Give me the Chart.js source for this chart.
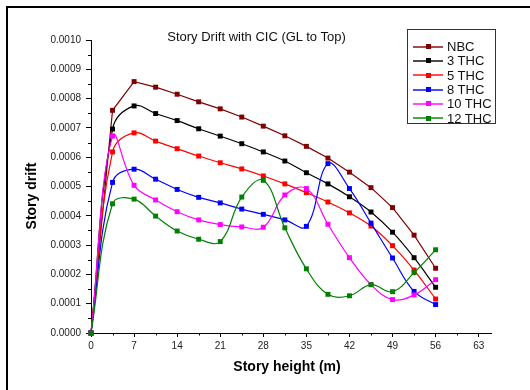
<!DOCTYPE html>
<html>
<head>
<meta charset="utf-8">
<title>Story Drift with CIC</title>
<script src="https://cdn.jsdelivr.net/npm/chart.js@4.4.0/dist/chart.umd.min.js"></script>
<style>
  html, body { margin: 0; padding: 0; background: #fff; overflow: hidden; }
  #wrap { position: relative; width: 530px; height: 390px; }
  #frame { position: absolute; left: 6px; top: 6px; width: 600px; height: 500px; border: 2px solid #000; box-sizing: border-box; }
  #chart { position: absolute; left: 0; top: 0; }
  #title { position: absolute; left: 0; top: 29px; width: 513px; text-align: center;
           font: 13px "Liberation Sans", Arial, sans-serif; color: #111; line-height: 16px; }
  #legend { position: absolute; left: 407px; top: 29px; width: 89px; height: 95px; box-sizing: border-box;
            border: 1px solid #333; background: #fff; padding-top: 9.5px; }
  .row { height: 14.3px; display: flex; align-items: center; font: 13px "Liberation Sans", Arial, sans-serif; color: #111; }
  .sw { position: relative; width: 30px; height: 2px; margin-left: 5px; margin-right: 4px; }
  .sw b { position: absolute; left: 0; top: 0; width: 30px; height: 2px; opacity: 0.7; }
  .sw i { position: absolute; left: 12.5px; top: -1.5px; width: 5px; height: 5px; }
</style>
</head>
<body>
<div id="wrap">
  <div id="frame"></div>
  <canvas id="chart" width="530" height="390"></canvas>
  <div id="title">Story Drift with CIC (GL to Top)</div>
  <div id="legend"></div>
</div>
<script>
// story heights (m), one point per floor level
const heights = [0, 3.5, 7, 10.5, 14, 17.5, 21, 24.5, 28, 31.5, 35, 38.5, 42, 45.5, 49, 52.5, 56];

const nbc   = [0, 0.000760, 0.000858, 0.000839, 0.000815, 0.000789, 0.000765, 0.000737, 0.000706, 0.000673, 0.000637, 0.000597, 0.000549, 0.000496, 0.000428, 0.000334, 0.000221];
const thc3  = [0, 0.000696, 0.000775, 0.000749, 0.000725, 0.000697, 0.000672, 0.000646, 0.000618, 0.000587, 0.000547, 0.000509, 0.000465, 0.000413, 0.000344, 0.000257, 0.000156];
const thc5  = [0, 0.000618, 0.000683, 0.000655, 0.000629, 0.000604, 0.000581, 0.000560, 0.000536, 0.000509, 0.000479, 0.000447, 0.000410, 0.000365, 0.000298, 0.000215, 0.000116];
const thc8  = [0, 0.000514, 0.000559, 0.000525, 0.000490, 0.000463, 0.000444, 0.000423, 0.000405, 0.000386, 0.000364, 0.000578, 0.000493, 0.000375, 0.000256, 0.000142, 0.000097];
const thc10 = [0, 0.000672, 0.000504, 0.000454, 0.000414, 0.000386, 0.000370, 0.000362, 0.000361, 0.000471, 0.000493, 0.000371, 0.000257, 0.000165, 0.000114, 0.000130, 0.000182];
const thc12 = [0, 0.000441, 0.000457, 0.000399, 0.000348, 0.000320, 0.000312, 0.000464, 0.000521, 0.000359, 0.000219, 0.000132, 0.000127, 0.000165, 0.000141, 0.000206, 0.000284];

const seriesNames  = ['NBC', '3 THC', '5 THC', '8 THC', '10 THC', '12 THC'];
const seriesValues = [nbc, thc3, thc5, thc8, thc10, thc12];
const seriesColors = ['#800000', '#000000', '#ff0000', '#0000ff', '#ff00ff', '#008000'];
const seriesSmooth = [false, true, true, true, true, true];

const xTicks = [0, 7, 14, 21, 28, 35, 42, 49, 56, 63];
const yTicks = [0, 0.0001, 0.0002, 0.0003, 0.0004, 0.0005, 0.0006, 0.0007, 0.0008, 0.0009, 0.0010];

const FONT = '"Liberation Sans", Arial, sans-serif';

const datasets = seriesNames.map((name, i) => ({
  label: name,
  data: heights.map((h, k) => ({ x: h, y: seriesValues[i][k] })),
  borderColor: seriesColors[i],
  backgroundColor: seriesColors[i],
  borderWidth: 1.2,
  tension: seriesSmooth[i] ? 0.4 : 0,
  pointStyle: 'rect',
  pointRadius: 3.5,
  pointBorderWidth: 0,
  pointHoverRadius: 3.5,
  clip: false,
  order: seriesNames.length - i
}));

// minor tick marks halfway between the labelled ones, plus the axis titles
const axisExtras = {
  id: 'axisExtras',
  afterDraw(chart) {
    const { ctx, scales: { x, y } } = chart;
    ctx.save();
    ctx.strokeStyle = '#000';
    ctx.lineWidth = 1;
    ctx.beginPath();
    for (let i = 0; i < xTicks.length - 1; i++) {
      const px = Math.round(x.getPixelForValue((xTicks[i] + xTicks[i + 1]) / 2)) + 0.5;
      ctx.moveTo(px, x.top);
      ctx.lineTo(px, x.top + 2.5);
    }
    for (let i = 0; i < yTicks.length - 1; i++) {
      const py = Math.round(y.getPixelForValue((yTicks[i] + yTicks[i + 1]) / 2)) + 0.5;
      ctx.moveTo(y.right, py);
      ctx.lineTo(y.right - 3, py);
    }
    ctx.stroke();

    ctx.fillStyle = '#000';
    ctx.font = 'bold 14px ' + FONT;
    ctx.textAlign = 'center';
    ctx.textBaseline = 'middle';
    ctx.fillText('Story height (m)', (x.left + x.right) / 2 - 4, 367);
    ctx.translate(32, 196);
    ctx.rotate(-Math.PI / 2);
    ctx.fillText('Story drift', 0, 0);
    ctx.restore();
  }
};

new Chart(document.getElementById('chart'), {
  type: 'line',
  data: { datasets },
  options: {
    responsive: false,
    animation: false,
    layout: { padding: { left: 0, top: 40, right: 39, bottom: 0 } },
    plugins: {
      legend: { display: false },
      title: { display: false },
      tooltip: { enabled: false }
    },
    scales: {
      x: {
        type: 'linear',
        min: 0,
        max: 65,
        afterBuildTicks: scale => { scale.ticks = xTicks.map(v => ({ value: v })); },
        afterFit: scale => { scale.height = 57; },
        grid: { drawOnChartArea: false, drawTicks: true, tickLength: 4, color: '#000' },
        border: { display: true, color: '#000', width: 1 },
        ticks: { color: '#222', font: { family: FONT, size: 10 }, padding: 3, maxRotation: 0 }
      },
      y: {
        type: 'linear',
        min: 0,
        max: 0.001,
        afterBuildTicks: scale => { scale.ticks = yTicks.map(v => ({ value: v })); },
        afterFit: scale => { scale.width = 91; },
        grid: { drawOnChartArea: false, drawTicks: true, tickLength: 5, color: '#000' },
        border: { display: true, color: '#000', width: 1 },
        ticks: {
          color: '#222',
          font: { family: FONT, size: 10 },
          padding: 5,
          callback: v => Number(v).toFixed(4)
        }
      }
    }
  },
  plugins: [axisExtras]
});

// legend box, built from the same series lists
const legend = document.getElementById('legend');
seriesNames.forEach((name, i) => {
  const row = document.createElement('div');
  row.className = 'row';
  row.innerHTML = '<span class="sw"><b style="background:' + seriesColors[i] + '"></b><i style="background:' +
    seriesColors[i] + '"></i></span><span>' + name + '</span>';
  legend.appendChild(row);
});
</script>
</body>
</html>
